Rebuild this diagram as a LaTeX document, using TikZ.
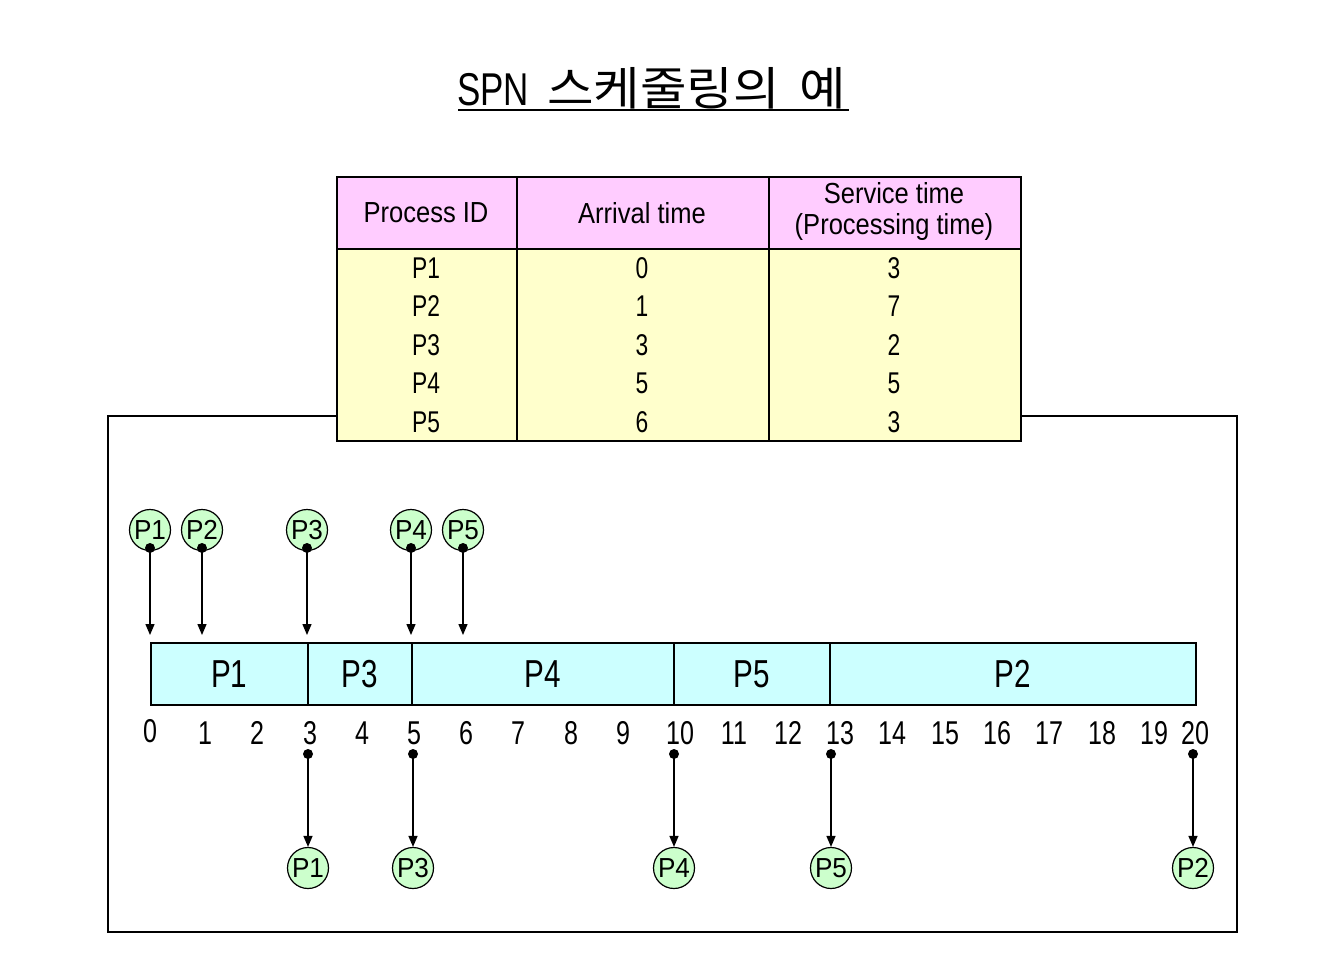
\documentclass[tikz,border=0pt]{standalone}
\usepackage{fontspec}
\setmainfont[FakeStretch=0.76]{Liberation Sans}
\newfontfamily\hdfont[FakeStretch=0.88]{Liberation Sans}
\newfontfamily\cfont[FakeStretch=0.95]{Liberation Sans}
\newfontfamily\krfont[FakeStretch=1.1]{Noto Sans CJK KR}
\usetikzlibrary{arrows.meta}
\definecolor{hdpink}{HTML}{FFCCFF}
\definecolor{bodyyellow}{HTML}{FFFFCC}
\definecolor{barcyan}{HTML}{CCFFFF}
\definecolor{procgreen}{HTML}{CCFFCC}
\tikzset{
  frame/.style={draw, line width=1.6pt},
  hdcell/.style={draw, line width=1.6pt, fill=hdpink, minimum height=72pt, inner sep=0pt, anchor=north west},
  bdcell/.style={draw, line width=1.6pt, fill=bodyyellow, minimum height=192pt, inner sep=0pt, anchor=north west},
  hdtext/.style={font=\hdfont\fontsize{29}{31}\selectfont, align=center, inner sep=0pt},
  celltext/.style={font=\fontsize{30}{30}\selectfont, inner sep=0pt},
  proc/.style={circle, draw, line width=1.2pt, fill=procgreen, minimum size=41pt, inner sep=0pt, font=\cfont\fontsize{27.5}{27.5}\selectfont},
  arr/.style={line width=1.4pt, -{Triangle[length=11pt,width=9pt]}},
  dotmark/.style={circle, fill=black, inner sep=0pt, minimum size=10pt},
  seg/.style={draw, line width=1.6pt, fill=barcyan, minimum height=62pt, anchor=west, inner sep=0pt, font=\fontsize{39}{39}\selectfont},
  tick/.style={font=\fontsize{33}{33}\selectfont, inner sep=0pt}
}
\begin{document}
\begin{tikzpicture}[x=1pt,y=-1pt]
\useasboundingbox (0,0) rectangle (1318,961);

% title
\node[inner sep=0pt, anchor=base west] (title) at (457,105) {\fontsize{46}{46}\selectfont SPN\hspace{18pt}{\krfont\fontsize{46}{46}\selectfont 스케줄링의\hspace{20pt}예}};
\draw[line width=2pt] (458,110) -- (849,110);

% outer box
\draw[frame] (108,416) rectangle (1237,932);

% table
\node[hdcell, minimum width=180pt] (h1) at (336,176) {};
\node[hdcell, minimum width=252pt] (h2) at (516,176) {};
\node[hdcell, minimum width=252pt] (h3) at (768,176) {};
\node[bdcell, minimum width=180pt] (b1) at (336,248) {};
\node[bdcell, minimum width=252pt] (b2) at (516,248) {};
\node[bdcell, minimum width=252pt] (b3) at (768,248) {};
\node[hdtext] (t1) at (426,213) {Process ID};
\node[hdtext] (t2) at (642,213) {Arrival time};
\node[hdtext] (t3) at (894,211) {Service time\\(Processing time)};
\foreach \p/\a/\s [count=\i from 0] in {P1/0/3, P2/1/7, P3/3/2, P4/5/5, P5/6/3}{
  \node[celltext] (pid\i) at (426,268+38.5*\i) {\p};
  \node[celltext] (arv\i) at (642,268+38.5*\i) {\a};
  \node[celltext] (svc\i) at (894,268+38.5*\i) {\s};
}

% arrivals
\foreach \n/\x in {P1/150, P2/202, P3/307, P4/411, P5/463}{
  \node[proc] (a\n) at (\x,530) {\n};
  \coordinate (ad\n) at (\x,548);
  \coordinate (ae\n) at (\x,635);
}
\foreach \n in {P1,P2,P3,P4,P5}{
  \draw[arr] (ad\n) -- (ae\n);
  \node[dotmark] (adm\n) at (ad\n) {};
}

% gantt bar
\node[seg, minimum width=157pt] (sP1) at (150,674) {P1};
\node[seg, minimum width=104pt] (sP3) at (307,674) {P3};
\node[seg, minimum width=262pt] (sP4) at (411,674) {P4};
\node[seg, minimum width=156pt] (sP5) at (673,674) {P5};
\node[seg, minimum width=366pt] (sP2) at (829,674) {P2};

% ticks
\foreach \t/\x/\y in {0/150/731,1/205/733,2/257/733,3/310/733,4/362/733,5/414/733,6/466/733,7/518/733,8/571/733,9/623/733,10/680/733,11/734/733,12/788/733,13/840/733,14/892/733,15/945/733,16/997/733,17/1049/733,18/1102/733,19/1154/733,20/1195/733}{
  \node[tick] (tk\t) at (\x,\y) {\t};
}

% completions
\foreach \n/\x in {P1/308, P3/413, P4/674, P5/831, P2/1193}{
  \coordinate (cd\n) at (\x,754);
  \node[proc] (c\n) at (\x,868) {\n};
  \draw[arr] (cd\n) -- (c\n.north);
  \node[dotmark] (cdm\n) at (cd\n) {};
}
\end{tikzpicture}
\end{document}
